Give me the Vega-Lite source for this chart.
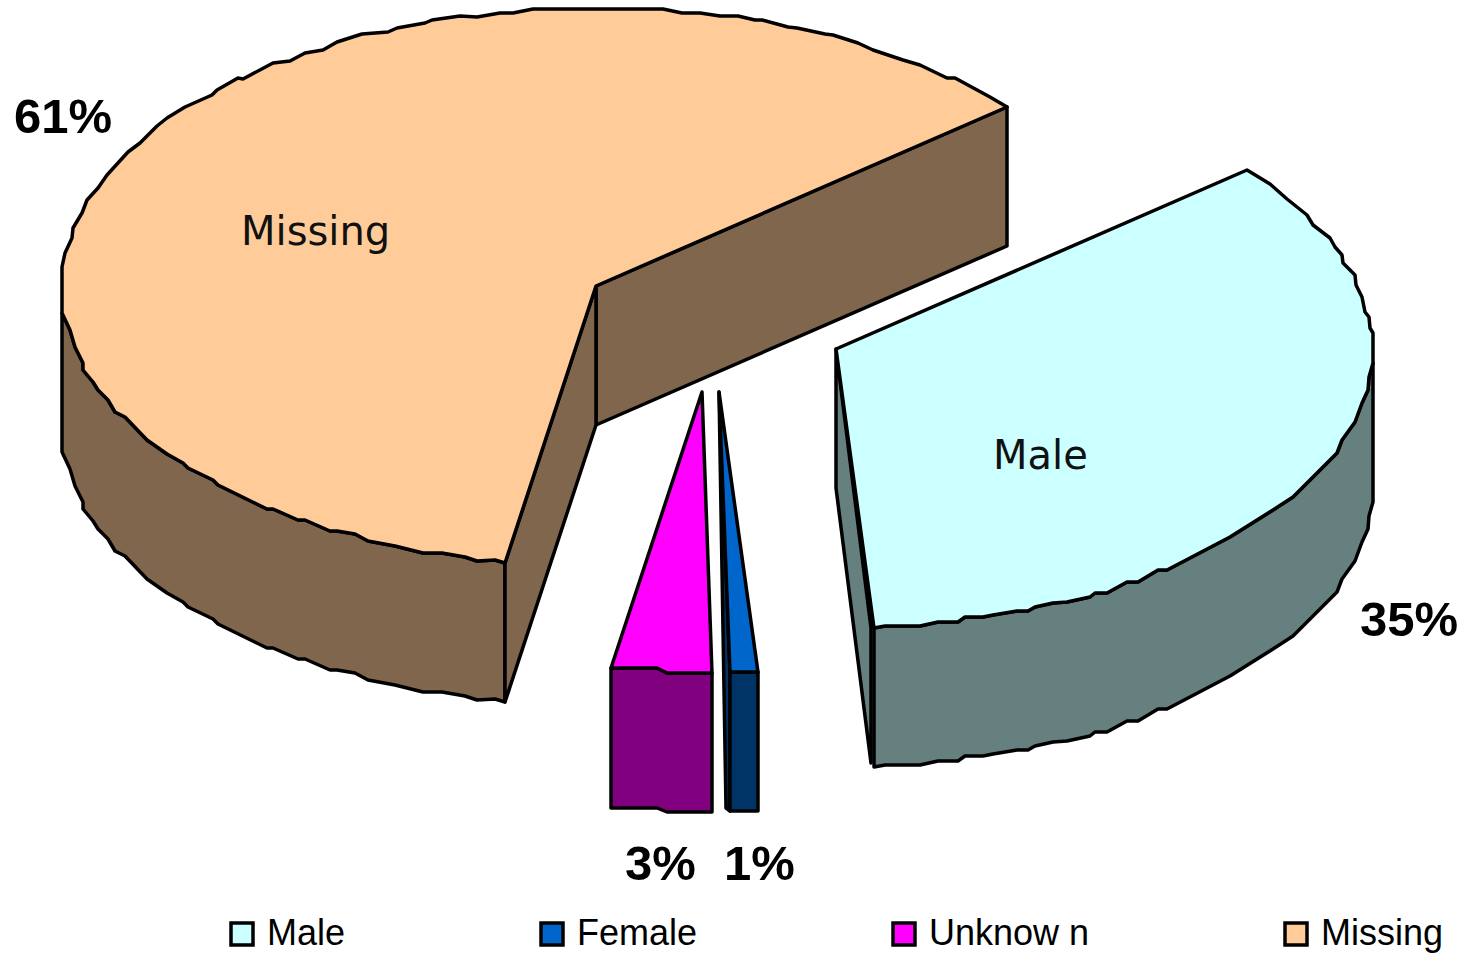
{"$schema":"https://vega.github.io/schema/vega-lite/v6.json","width":1463,"height":954,"padding":0,"autosize":{"type":"none"},"background":"white","view":{"stroke":null},
"datasets":{"sides":[
{"slice":"Missing","poly":"m-rim","x":62,"y":313},{"slice":"Missing","poly":"m-rim","x":70,"y":330},{"slice":"Missing","poly":"m-rim","x":75,"y":347},{"slice":"Missing","poly":"m-rim","x":83,"y":363},{"slice":"Missing","poly":"m-rim","x":83,"y":370},{"slice":"Missing","poly":"m-rim","x":93,"y":382},{"slice":"Missing","poly":"m-rim","x":98,"y":390},{"slice":"Missing","poly":"m-rim","x":108,"y":400},{"slice":"Missing","poly":"m-rim","x":115,"y":412},{"slice":"Missing","poly":"m-rim","x":125,"y":417},{"slice":"Missing","poly":"m-rim","x":147,"y":440},{"slice":"Missing","poly":"m-rim","x":167,"y":454},{"slice":"Missing","poly":"m-rim","x":183,"y":463},{"slice":"Missing","poly":"m-rim","x":188,"y":468},{"slice":"Missing","poly":"m-rim","x":213,"y":480},{"slice":"Missing","poly":"m-rim","x":218,"y":485},{"slice":"Missing","poly":"m-rim","x":267,"y":509},{"slice":"Missing","poly":"m-rim","x":273,"y":509},{"slice":"Missing","poly":"m-rim","x":298,"y":520},{"slice":"Missing","poly":"m-rim","x":305,"y":520},{"slice":"Missing","poly":"m-rim","x":330,"y":531},{"slice":"Missing","poly":"m-rim","x":337,"y":531},{"slice":"Missing","poly":"m-rim","x":355,"y":534},{"slice":"Missing","poly":"m-rim","x":368,"y":541},{"slice":"Missing","poly":"m-rim","x":395,"y":546},{"slice":"Missing","poly":"m-rim","x":423,"y":553},{"slice":"Missing","poly":"m-rim","x":442,"y":553},{"slice":"Missing","poly":"m-rim","x":465,"y":557},{"slice":"Missing","poly":"m-rim","x":477,"y":561},{"slice":"Missing","poly":"m-rim","x":495,"y":560},{"slice":"Missing","poly":"m-rim","x":505,"y":563},
{"slice":"Missing","poly":"m-rim","x":505,"y":702},{"slice":"Missing","poly":"m-rim","x":495,"y":699},{"slice":"Missing","poly":"m-rim","x":477,"y":700},{"slice":"Missing","poly":"m-rim","x":465,"y":696},{"slice":"Missing","poly":"m-rim","x":442,"y":692},{"slice":"Missing","poly":"m-rim","x":423,"y":692},{"slice":"Missing","poly":"m-rim","x":395,"y":685},{"slice":"Missing","poly":"m-rim","x":368,"y":680},{"slice":"Missing","poly":"m-rim","x":355,"y":673},{"slice":"Missing","poly":"m-rim","x":337,"y":670},{"slice":"Missing","poly":"m-rim","x":330,"y":670},{"slice":"Missing","poly":"m-rim","x":305,"y":659},{"slice":"Missing","poly":"m-rim","x":298,"y":659},{"slice":"Missing","poly":"m-rim","x":273,"y":648},{"slice":"Missing","poly":"m-rim","x":267,"y":648},{"slice":"Missing","poly":"m-rim","x":218,"y":624},{"slice":"Missing","poly":"m-rim","x":213,"y":619},{"slice":"Missing","poly":"m-rim","x":188,"y":607},{"slice":"Missing","poly":"m-rim","x":183,"y":602},{"slice":"Missing","poly":"m-rim","x":167,"y":593},{"slice":"Missing","poly":"m-rim","x":147,"y":579},{"slice":"Missing","poly":"m-rim","x":125,"y":556},{"slice":"Missing","poly":"m-rim","x":115,"y":551},{"slice":"Missing","poly":"m-rim","x":108,"y":539},{"slice":"Missing","poly":"m-rim","x":98,"y":529},{"slice":"Missing","poly":"m-rim","x":93,"y":521},{"slice":"Missing","poly":"m-rim","x":83,"y":509},{"slice":"Missing","poly":"m-rim","x":83,"y":502},{"slice":"Missing","poly":"m-rim","x":75,"y":486},{"slice":"Missing","poly":"m-rim","x":70,"y":469},{"slice":"Missing","poly":"m-rim","x":62,"y":452},
{"slice":"Missing","poly":"m-wall1","x":596,"y":286},{"slice":"Missing","poly":"m-wall1","x":1007,"y":107},{"slice":"Missing","poly":"m-wall1","x":1007,"y":246},{"slice":"Missing","poly":"m-wall1","x":596,"y":425},
{"slice":"Missing","poly":"m-wall2","x":596,"y":286},{"slice":"Missing","poly":"m-wall2","x":505,"y":563},{"slice":"Missing","poly":"m-wall2","x":505,"y":702},{"slice":"Missing","poly":"m-wall2","x":596,"y":425},
{"slice":"Male","poly":"a-rim","x":1373,"y":363},{"slice":"Male","poly":"a-rim","x":1369,"y":377},{"slice":"Male","poly":"a-rim","x":1368,"y":390},{"slice":"Male","poly":"a-rim","x":1362,"y":403},{"slice":"Male","poly":"a-rim","x":1355,"y":422},{"slice":"Male","poly":"a-rim","x":1342,"y":440},{"slice":"Male","poly":"a-rim","x":1337,"y":453},{"slice":"Male","poly":"a-rim","x":1293,"y":497},{"slice":"Male","poly":"a-rim","x":1273,"y":510},{"slice":"Male","poly":"a-rim","x":1230,"y":537},{"slice":"Male","poly":"a-rim","x":1167,"y":570},{"slice":"Male","poly":"a-rim","x":1158,"y":570},{"slice":"Male","poly":"a-rim","x":1138,"y":582},{"slice":"Male","poly":"a-rim","x":1127,"y":582},{"slice":"Male","poly":"a-rim","x":1107,"y":593},{"slice":"Male","poly":"a-rim","x":1095,"y":593},{"slice":"Male","poly":"a-rim","x":1090,"y":597},{"slice":"Male","poly":"a-rim","x":1067,"y":602},{"slice":"Male","poly":"a-rim","x":1053,"y":603},{"slice":"Male","poly":"a-rim","x":1035,"y":607},{"slice":"Male","poly":"a-rim","x":1028,"y":611},{"slice":"Male","poly":"a-rim","x":1017,"y":611},{"slice":"Male","poly":"a-rim","x":993,"y":615},{"slice":"Male","poly":"a-rim","x":983,"y":617},{"slice":"Male","poly":"a-rim","x":965,"y":617},{"slice":"Male","poly":"a-rim","x":958,"y":622},{"slice":"Male","poly":"a-rim","x":938,"y":622},{"slice":"Male","poly":"a-rim","x":920,"y":626},{"slice":"Male","poly":"a-rim","x":885,"y":626},{"slice":"Male","poly":"a-rim","x":874,"y":628},
{"slice":"Male","poly":"a-rim","x":874,"y":767},{"slice":"Male","poly":"a-rim","x":885,"y":765},{"slice":"Male","poly":"a-rim","x":920,"y":765},{"slice":"Male","poly":"a-rim","x":938,"y":761},{"slice":"Male","poly":"a-rim","x":958,"y":761},{"slice":"Male","poly":"a-rim","x":965,"y":756},{"slice":"Male","poly":"a-rim","x":983,"y":756},{"slice":"Male","poly":"a-rim","x":993,"y":754},{"slice":"Male","poly":"a-rim","x":1017,"y":750},{"slice":"Male","poly":"a-rim","x":1028,"y":750},{"slice":"Male","poly":"a-rim","x":1035,"y":746},{"slice":"Male","poly":"a-rim","x":1053,"y":742},{"slice":"Male","poly":"a-rim","x":1067,"y":741},{"slice":"Male","poly":"a-rim","x":1090,"y":736},{"slice":"Male","poly":"a-rim","x":1095,"y":732},{"slice":"Male","poly":"a-rim","x":1107,"y":732},{"slice":"Male","poly":"a-rim","x":1127,"y":721},{"slice":"Male","poly":"a-rim","x":1138,"y":721},{"slice":"Male","poly":"a-rim","x":1158,"y":709},{"slice":"Male","poly":"a-rim","x":1167,"y":709},{"slice":"Male","poly":"a-rim","x":1230,"y":676},{"slice":"Male","poly":"a-rim","x":1273,"y":649},{"slice":"Male","poly":"a-rim","x":1293,"y":636},{"slice":"Male","poly":"a-rim","x":1337,"y":592},{"slice":"Male","poly":"a-rim","x":1342,"y":579},{"slice":"Male","poly":"a-rim","x":1355,"y":561},{"slice":"Male","poly":"a-rim","x":1362,"y":542},{"slice":"Male","poly":"a-rim","x":1368,"y":529},{"slice":"Male","poly":"a-rim","x":1369,"y":516},{"slice":"Male","poly":"a-rim","x":1373,"y":502},
{"slice":"Male","poly":"a-wall","x":836,"y":349},{"slice":"Male","poly":"a-wall","x":871,"y":628},{"slice":"Male","poly":"a-wall","x":871,"y":763},{"slice":"Male","poly":"a-wall","x":836,"y":488},
{"slice":"Unknow n","poly":"u-front","x":611,"y":668},{"slice":"Unknow n","poly":"u-front","x":657,"y":668},{"slice":"Unknow n","poly":"u-front","x":667,"y":673},{"slice":"Unknow n","poly":"u-front","x":712,"y":673},{"slice":"Unknow n","poly":"u-front","x":712,"y":812},{"slice":"Unknow n","poly":"u-front","x":667,"y":812},{"slice":"Unknow n","poly":"u-front","x":657,"y":808},{"slice":"Unknow n","poly":"u-front","x":611,"y":808},
{"slice":"Female","poly":"f-wall","x":719,"y":392},{"slice":"Female","poly":"f-wall","x":730,"y":672},{"slice":"Female","poly":"f-wall","x":730,"y":811},{"slice":"Female","poly":"f-wall","x":726,"y":808},
{"slice":"Female","poly":"f-front","x":730,"y":672},{"slice":"Female","poly":"f-front","x":758,"y":672},{"slice":"Female","poly":"f-front","x":758,"y":811},{"slice":"Female","poly":"f-front","x":730,"y":811}
],
"tops":[
{"slice":"Missing","x":596,"y":286},{"slice":"Missing","x":1007,"y":107},{"slice":"Missing","x":990,"y":97},{"slice":"Missing","x":955,"y":78},{"slice":"Missing","x":947,"y":78},{"slice":"Missing","x":920,"y":65},{"slice":"Missing","x":903,"y":60},{"slice":"Missing","x":873,"y":50},{"slice":"Missing","x":858,"y":43},{"slice":"Missing","x":833,"y":35},{"slice":"Missing","x":825,"y":34},{"slice":"Missing","x":797,"y":28},{"slice":"Missing","x":788,"y":27},{"slice":"Missing","x":762,"y":20},{"slice":"Missing","x":755,"y":20},{"slice":"Missing","x":738,"y":16},{"slice":"Missing","x":720,"y":16},{"slice":"Missing","x":700,"y":13},{"slice":"Missing","x":682,"y":13},{"slice":"Missing","x":663,"y":9},{"slice":"Missing","x":533,"y":9},{"slice":"Missing","x":513,"y":13},{"slice":"Missing","x":500,"y":13},{"slice":"Missing","x":477,"y":17},{"slice":"Missing","x":460,"y":16},{"slice":"Missing","x":432,"y":20},{"slice":"Missing","x":425,"y":23},{"slice":"Missing","x":397,"y":28},{"slice":"Missing","x":388,"y":32},{"slice":"Missing","x":362,"y":34},{"slice":"Missing","x":337,"y":42},{"slice":"Missing","x":323,"y":50},{"slice":"Missing","x":305,"y":53},{"slice":"Missing","x":290,"y":61},{"slice":"Missing","x":273,"y":63},{"slice":"Missing","x":243,"y":79},{"slice":"Missing","x":238,"y":78},{"slice":"Missing","x":217,"y":90},{"slice":"Missing","x":212,"y":95},{"slice":"Missing","x":185,"y":107},{"slice":"Missing","x":167,"y":118},{"slice":"Missing","x":157,"y":126},{"slice":"Missing","x":140,"y":143},{"slice":"Missing","x":128,"y":152},{"slice":"Missing","x":107,"y":175},{"slice":"Missing","x":98,"y":188},{"slice":"Missing","x":87,"y":200},{"slice":"Missing","x":82,"y":213},{"slice":"Missing","x":73,"y":228},{"slice":"Missing","x":72,"y":238},{"slice":"Missing","x":65,"y":253},{"slice":"Missing","x":62,"y":267},{"slice":"Missing","x":62,"y":313},{"slice":"Missing","x":70,"y":330},{"slice":"Missing","x":75,"y":347},{"slice":"Missing","x":83,"y":363},{"slice":"Missing","x":83,"y":370},{"slice":"Missing","x":93,"y":382},{"slice":"Missing","x":98,"y":390},{"slice":"Missing","x":108,"y":400},{"slice":"Missing","x":115,"y":412},{"slice":"Missing","x":125,"y":417},{"slice":"Missing","x":147,"y":440},{"slice":"Missing","x":167,"y":454},{"slice":"Missing","x":183,"y":463},{"slice":"Missing","x":188,"y":468},{"slice":"Missing","x":213,"y":480},{"slice":"Missing","x":218,"y":485},{"slice":"Missing","x":267,"y":509},{"slice":"Missing","x":273,"y":509},{"slice":"Missing","x":298,"y":520},{"slice":"Missing","x":305,"y":520},{"slice":"Missing","x":330,"y":531},{"slice":"Missing","x":337,"y":531},{"slice":"Missing","x":355,"y":534},{"slice":"Missing","x":368,"y":541},{"slice":"Missing","x":395,"y":546},{"slice":"Missing","x":423,"y":553},{"slice":"Missing","x":442,"y":553},{"slice":"Missing","x":465,"y":557},{"slice":"Missing","x":477,"y":561},{"slice":"Missing","x":495,"y":560},{"slice":"Missing","x":505,"y":563},
{"slice":"Male","x":836,"y":349},{"slice":"Male","x":1247,"y":170},{"slice":"Male","x":1270,"y":184},{"slice":"Male","x":1287,"y":199},{"slice":"Male","x":1307,"y":215},{"slice":"Male","x":1313,"y":225},{"slice":"Male","x":1330,"y":238},{"slice":"Male","x":1335,"y":247},{"slice":"Male","x":1342,"y":255},{"slice":"Male","x":1343,"y":263},{"slice":"Male","x":1355,"y":275},{"slice":"Male","x":1356,"y":285},{"slice":"Male","x":1362,"y":297},{"slice":"Male","x":1365,"y":312},{"slice":"Male","x":1369,"y":317},{"slice":"Male","x":1370,"y":328},{"slice":"Male","x":1373,"y":333},{"slice":"Male","x":1373,"y":363},{"slice":"Male","x":1369,"y":377},{"slice":"Male","x":1368,"y":390},{"slice":"Male","x":1362,"y":403},{"slice":"Male","x":1355,"y":422},{"slice":"Male","x":1342,"y":440},{"slice":"Male","x":1337,"y":453},{"slice":"Male","x":1293,"y":497},{"slice":"Male","x":1273,"y":510},{"slice":"Male","x":1230,"y":537},{"slice":"Male","x":1167,"y":570},{"slice":"Male","x":1158,"y":570},{"slice":"Male","x":1138,"y":582},{"slice":"Male","x":1127,"y":582},{"slice":"Male","x":1107,"y":593},{"slice":"Male","x":1095,"y":593},{"slice":"Male","x":1090,"y":597},{"slice":"Male","x":1067,"y":602},{"slice":"Male","x":1053,"y":603},{"slice":"Male","x":1035,"y":607},{"slice":"Male","x":1028,"y":611},{"slice":"Male","x":1017,"y":611},{"slice":"Male","x":993,"y":615},{"slice":"Male","x":983,"y":617},{"slice":"Male","x":965,"y":617},{"slice":"Male","x":958,"y":622},{"slice":"Male","x":938,"y":622},{"slice":"Male","x":920,"y":626},{"slice":"Male","x":885,"y":626},{"slice":"Male","x":874,"y":628},
{"slice":"Unknow n","x":702,"y":392},{"slice":"Unknow n","x":712,"y":673},{"slice":"Unknow n","x":667,"y":673},{"slice":"Unknow n","x":657,"y":668},{"slice":"Unknow n","x":611,"y":668},
{"slice":"Female","x":719,"y":392},{"slice":"Female","x":758,"y":672},{"slice":"Female","x":730,"y":672}
],
"labels":[
{"label":"Missing","x":241,"y":245,"kind":"name"},
{"label":"Male","x":993,"y":469,"kind":"name"},
{"label":"61%","x":14,"y":133,"kind":"pct"},
{"label":"35%","x":1360,"y":636,"kind":"pct"},
{"label":"3%","x":625,"y":880,"kind":"pct"},
{"label":"1%","x":724,"y":880,"kind":"pct"}
]},
"layer":[
{"data":{"name":"sides"},
"mark":{"type":"line","interpolate":"linear-closed","stroke":"black","strokeWidth":3.5,"strokeJoin":"round","clip":false},
"encoding":{"x":{"field":"x","type":"quantitative","scale":{"domain":[0,1463],"nice":false,"zero":false},"axis":null},"y":{"field":"y","type":"quantitative","scale":{"domain":[954,0],"nice":false,"zero":false},"axis":null},"detail":{"field":"poly"},"order":{"value":null},
"fill":{"field":"slice","type":"nominal","scale":{"domain":["Male","Female","Unknow n","Missing"],"range":["#667f7f","#003366","#800080","#7f664c"]},"legend":null}}},
{"data":{"name":"tops"},
"mark":{"type":"line","interpolate":"linear-closed","stroke":"black","strokeWidth":3.5,"strokeJoin":"round","clip":false},
"encoding":{"x":{"field":"x","type":"quantitative"},"y":{"field":"y","type":"quantitative"},"order":{"value":null},
"fill":{"field":"slice","type":"nominal","scale":{"domain":["Male","Female","Unknow n","Missing"],"range":["#ccffff","#0066cc","#ff00ff","#ffcc99"]},
"legend":{"title":null,"orient":"none","legendX":224,"legendY":916,"direction":"horizontal","columns":4,"columnPadding":188,"symbolType":"square","symbolSize":484,"symbolStrokeColor":"black","symbolStrokeWidth":3.5,"labelFont":"Liberation Sans","labelFontSize":36,"labelColor":"black","labelOffset":7,"labelLimit":300}}}},
{"data":{"name":"labels"},"transform":[{"filter":"datum.kind==='name'"}],"mark":{"type":"text","align":"left","baseline":"alphabetic","font":"DejaVu Sans","fontSize":40,"color":"#111111"},"encoding":{"x":{"field":"x","type":"quantitative"},"y":{"field":"y","type":"quantitative"},"text":{"field":"label"}}},
{"data":{"name":"labels"},"transform":[{"filter":"datum.kind==='pct'"}],"mark":{"type":"text","align":"left","baseline":"alphabetic","font":"Liberation Sans","fontWeight":"bold","fontSize":49,"color":"black"},"encoding":{"x":{"field":"x","type":"quantitative"},"y":{"field":"y","type":"quantitative"},"text":{"field":"label"}}}
],
"resolve":{"scale":{"fill":"independent"}}}
